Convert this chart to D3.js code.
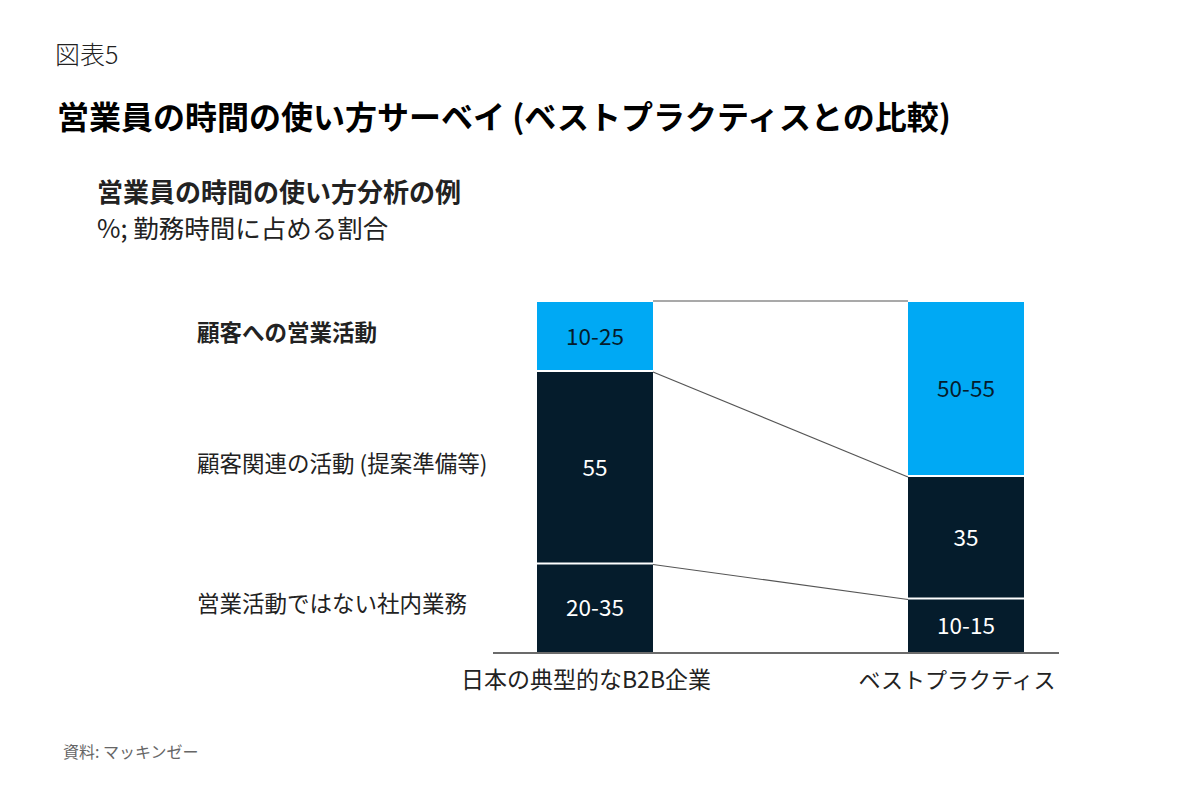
<!DOCTYPE html>
<html>
<head>
<meta charset="utf-8">
<script src="https://cdn.jsdelivr.net/npm/d3@7"></script>
<style>
  body { margin: 0; background: #fff; }
  svg text { font-family: "Noto Sans CJK JP", "Noto Sans", sans-serif; }
</style>
</head>
<body>
<svg id="chart" width="1200" height="810"></svg>
<script>
// data
const categories = ['日本の典型的なB2B企業', 'ベストプラクティス']
const segmentKeys = ['internal', 'related', 'sales']   // bottom -> top
const segmentNames = {
  sales: '顧客への営業活動',
  related: '顧客関連の活動 (提案準備等)',
  internal: '営業活動ではない社内業務'
}
const internalValues = [25, 15]
const relatedValues = [55, 35]
const salesValues = [20, 50]
const internalLabels = ['20-35', '10-15']
const relatedLabels = ['55', '35']
const salesLabels = ['10-25', '50-55']

const colors = { sales: '#00a9f4', related: '#051c2c', internal: '#051c2c' }
const textColors = { sales: '#051c2c', related: '#ffffff', internal: '#ffffff' }

const rows = categories.map((c, i) => ({
  category: c,
  internal: internalValues[i],
  related: relatedValues[i],
  sales: salesValues[i],
  labels: { internal: internalLabels[i], related: relatedLabels[i], sales: salesLabels[i] }
}))

const svg = d3.select('#chart')

// headers
svg.append('text').attr('x', 55).attr('y', 64)
  .attr('font-size', 25).attr('font-weight', 300).attr('fill', '#222')
  .text('図表5')
svg.append('text').attr('x', 57).attr('y', 129)
  .attr('font-size', 32).attr('font-weight', 700).attr('fill', '#000')
  .text('営業員の時間の使い方サーベイ (ベストプラクティスとの比較)')
svg.append('text').attr('x', 97).attr('y', 202)
  .attr('font-size', 26).attr('font-weight', 700).attr('fill', '#222')
  .text('営業員の時間の使い方分析の例')
svg.append('text').attr('x', 97).attr('y', 238)
  .attr('font-size', 25.5).attr('font-weight', 400).attr('fill', '#222')
  .text('%; 勤務時間に占める割合')

// scales
const x = d3.scalePoint().domain(categories).range([595, 966])
const y = d3.scaleLinear().domain([0, 100]).range([652, 302])
const bw = 116

const stacked = d3.stack().keys(segmentKeys)(rows)

// connector lines between the bars
stacked.forEach(s => {
  svg.append('line')
    .attr('x1', x(categories[0]) + bw / 2)
    .attr('y1', y(s[0][1]) - (s.key === 'sales' ? 1 : 0))
    .attr('x2', x(categories[1]) - bw / 2)
    .attr('y2', y(s[1][1]) - (s.key === 'sales' ? 1 : 0))
    .attr('stroke', '#555')
    .attr('stroke-width', 1.2)
})

// bars
const groups = svg.selectAll('g.series')
  .data(stacked)
  .enter()
  .append('g')
  .attr('class', 'series')

groups.selectAll('rect')
  .data(s => s.map(d => ({ key: s.key, d: d })))
  .enter()
  .append('rect')
  .attr('x', e => x(e.d.data.category) - bw / 2)
  .attr('y', e => y(e.d[1]))
  .attr('width', bw)
  .attr('height', e => y(e.d[0]) - y(e.d[1]) - (e.d[0] > 0 ? 2 : 0))
  .attr('fill', e => colors[e.key])

groups.selectAll('text')
  .data(s => s.map(d => ({ key: s.key, d: d })))
  .enter()
  .append('text')
  .attr('x', e => x(e.d.data.category))
  .attr('y', e => (y(e.d[0]) + y(e.d[1])) / 2)
  .attr('dy', '0.35em')
  .attr('text-anchor', 'middle')
  .attr('font-size', 22.5)
  .attr('font-family', '"Noto Sans", sans-serif')
  .attr('fill', e => textColors[e.key])
  .text(e => e.d.data.labels[e.key])

// segment names on the left
stacked.forEach(s => {
  const d = s[0]
  svg.append('text')
    .attr('x', 197)
    .attr('y', (y(d[0]) + y(d[1])) / 2 - 4)
    .attr('dy', '0.35em')
    .attr('font-size', 22.5)
    .attr('font-weight', s.key === 'sales' ? 700 : 400)
    .attr('fill', '#222')
    .text(segmentNames[s.key])
})

// baseline
svg.append('line')
  .attr('x1', 493).attr('x2', 1059)
  .attr('y1', y(0) + 1).attr('y2', y(0) + 1)
  .attr('stroke', '#6b6b6b').attr('stroke-width', 2)

// category labels
svg.selectAll('text.cat')
  .data(categories)
  .enter()
  .append('text')
  .attr('class', 'cat')
  .attr('x', d => x(d) - 9)
  .attr('y', 680)
  .attr('dy', '0.35em')
  .attr('text-anchor', 'middle')
  .attr('font-size', (d, i) => i === 0 ? 23 : 22)
  .attr('fill', '#222')
  .text(d => d)

// source
svg.append('text').attr('x', 63).attr('y', 758)
  .attr('font-size', 16).attr('fill', '#666')
  .text('資料: マッキンゼー')
</script>
</body>
</html>
